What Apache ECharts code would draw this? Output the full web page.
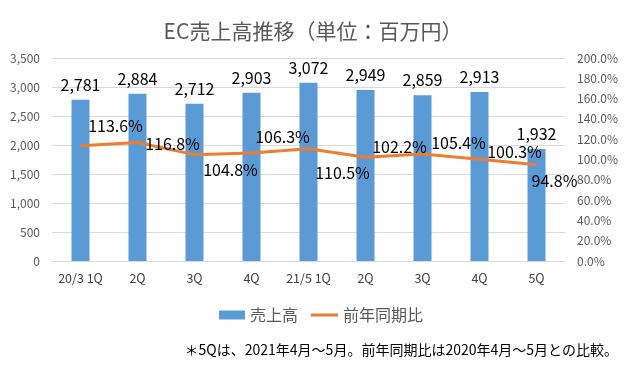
<!DOCTYPE html>
<html>
<head>
<meta charset="utf-8">
<script src="https://cdn.jsdelivr.net/npm/echarts@6/dist/echarts.min.js"></script>
<style>
html,body{margin:0;padding:0;background:#fff;}
#chart{width:626px;height:371px;}
</style>
</head>
<body>
<div id="chart"></div>
<script>
const categories = ['20/3 1Q', '2Q', '3Q', '4Q', '21/5 1Q', '2Q', '3Q', '4Q', '5Q'];
const sales = [2781, 2884, 2712, 2903, 3072, 2949, 2859, 2913, 1932];
const yoy = [113.6, 116.8, 104.8, 106.3, 110.5, 102.2, 105.4, 100.3, 94.8];
const leftTicks = [0, 3500, 500];
const rightTicks = [0, 200, 20];
const titleText = 'EC売上高推移（単位：百万円）';
const noteText = '＊5Qは、2021年4月～5月。前年同期比は2020年4月～5月との比較。';

// label placement for the ratio line (styling only)
const lineLabelOffsets = [[35,-20],[35,1],[36,15],[31,-16],[34,24],[34,-10],[36,-11],[35,-7],[18,16]];

const FONT = "'Noto Sans CJK JP', 'Noto Sans', sans-serif";
const chart = echarts.init(document.getElementById('chart'), null, {renderer: 'canvas'});

const lineData = yoy.map((v, i) => ({
  value: v,
  label: {offset: lineLabelOffsets[i]}
}));

chart.setOption({
  animation: false,
  backgroundColor: '#ffffff',
  textStyle: {fontFamily: FONT},
  title: {
    text: titleText,
    left: 'center',
    top: 16,
    textStyle: {fontFamily: FONT, fontSize: 21, fontWeight: 'normal', color: '#595959'}
  },
  legend: [
    {
      data: ['売上高'],
      left: 214,
      top: 302,
      itemWidth: 26,
      itemHeight: 9,
      icon: 'rect',
      textStyle: {fontFamily: FONT, fontSize: 16, color: '#595959'}
    },
    {
      data: ['前年同期比'],
      left: 306,
      top: 302,
      itemWidth: 27,
      itemHeight: 3,
      icon: 'rect',
      textStyle: {fontFamily: FONT, fontSize: 16, color: '#595959'}
    }
  ],
  graphic: [{
    type: 'text',
    right: 8,
    top: 343,
    style: {text: noteText, font: "14px " + FONT, fill: '#000000'}
  }],
  grid: {left: 52, right: 61, top: 58, bottom: 110, containLabel: false},
  xAxis: {
    type: 'category',
    data: categories,
    axisLine: {lineStyle: {color: '#D9D9D9'}},
    axisTick: {show: false},
    axisLabel: {fontFamily: FONT, fontSize: 12.5, color: '#404040', margin: 11, interval: 0}
  },
  yAxis: [
    {
      type: 'value',
      min: leftTicks[0], max: leftTicks[1], interval: leftTicks[2],
      axisLine: {show: false},
      axisTick: {show: false},
      splitLine: {lineStyle: {color: '#D9D9D9'}},
      axisLabel: {
        fontFamily: FONT, fontSize: 12, color: '#595959', margin: 12,
        formatter: v => v.toLocaleString('en-US')
      }
    },
    {
      type: 'value',
      min: rightTicks[0], max: rightTicks[1], interval: rightTicks[2],
      axisLine: {show: false},
      axisTick: {show: false},
      splitLine: {show: false},
      axisLabel: {
        fontFamily: FONT, fontSize: 12, color: '#595959', margin: 12,
        formatter: v => v.toFixed(1) + '%'
      }
    }
  ],
  series: [
    {
      name: '売上高',
      type: 'bar',
      data: sales,
      barWidth: 18,
      itemStyle: {color: '#5B9BD5'},
      label: {
        show: true, position: 'top', distance: 7,
        fontFamily: FONT, fontSize: 16, color: '#000000',
        formatter: p => p.value.toLocaleString('en-US')
      }
    },
    {
      name: '前年同期比',
      type: 'line',
      yAxisIndex: 1,
      data: lineData,
      symbol: 'circle',
      symbolSize: 0.1,
      itemStyle: {color: '#ED7D31'},
      lineStyle: {color: '#ED7D31', width: 3},
      label: {
        show: true, position: 'inside',
        fontFamily: FONT, fontSize: 16, color: '#000000',
        formatter: p => p.value.toFixed(1) + '%'
      }
    }
  ]
});
</script>
</body>
</html>
